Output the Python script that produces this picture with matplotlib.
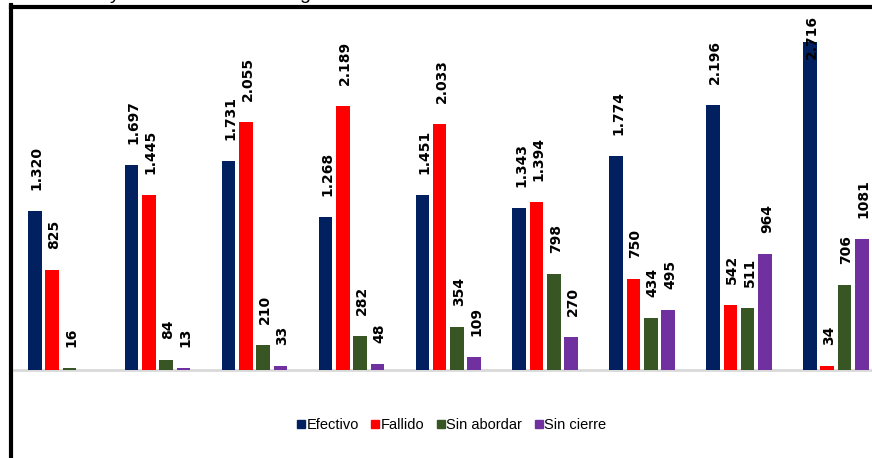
import matplotlib
matplotlib.use("Agg")
import matplotlib.pyplot as plt
import numpy as np
from matplotlib.lines import Line2D

series_names = ["Efectivo", "Fallido", "Sin abordar", "Sin cierre"]
colors = ["#002060", "#FF0000", "#375623", "#7030A0"]
efectivo = [1320, 1697, 1731, 1268, 1451, 1343, 1774, 2196, 2716]
fallido = [825, 1445, 2055, 2189, 2033, 1394, 750, 542, 34]
sin_abordar = [16, 84, 210, 282, 354, 798, 434, 511, 706]
sin_cierre = [None, 13, 33, 48, 109, 270, 495, 964, 1081]
label_dots = [True, True, False, False]  # thousands separator style per series

data = [efectivo, fallido, sin_abordar, sin_cierre]

W, H = 872, 458
fig = plt.figure(figsize=(W / 100, H / 100), dpi=100)

base_px = 370.0
top_px = 10.0
scale = 328.0 / 2716.0  # px per unit
ymax = (base_px - top_px) / scale

ax = fig.add_axes([14 / W, (H - base_px) / H, 1 - 14 / W, (base_px - top_px) / H])
group_pitch = 96.9
c0 = 60.7
ax.set_xlim((14 - c0) / group_pitch, (W - c0) / group_pitch)
ax.set_ylim(0, ymax)
for s in ax.spines.values():
    s.set_visible(False)
ax.set_xticks([])
ax.set_yticks([])
ax.axhline(0, color="#D9D9D9", lw=2, zorder=1, clip_on=False)

pitch = 17.3 / group_pitch
width = 13.6 / group_pitch
x = np.arange(len(efectivo))

gap_units = 21 / scale
for j, (vals, col) in enumerate(zip(data, colors)):
    off = (j - 1.5) * pitch
    xs = [xi + off for xi, v in zip(x, vals) if v is not None]
    vs = [v for v in vals if v is not None]
    ax.bar(xs, vs, width=width, color=col, zorder=2, edgecolor="none")
    for xi, v in zip(xs, vs):
        if label_dots[j] and v >= 1000:
            lab = f"{v:,}".replace(",", ".")
        else:
            lab = str(v)
        if v > 2500:
            ax.text(xi + 0.02, ymax - 5 / scale, lab, rotation=90, ha="center", va="top",
                    fontsize=10, fontweight="bold", family="DejaVu Sans", zorder=3)
        else:
            ax.text(xi + 0.02, v + gap_units, lab, rotation=90, ha="center", va="bottom",
                    fontsize=10, fontweight="bold", family="DejaVu Sans", zorder=3)

# legend
handles = [Line2D([], [], marker="s", linestyle="none", markersize=6,
                  markerfacecolor=c, markeredgecolor=c) for c in colors]
fig.legend(handles, series_names, loc="center", bbox_to_anchor=(452 / W, 1 - 425 / H),
           ncol=4, frameon=False, handletextpad=0.15, columnspacing=0.9,
           handlelength=0.45,
           prop={"family": ["Liberation Sans Narrow", "Liberation Sans"], "size": 10.5})

# black border (left and top)
fig.add_artist(Line2D([11 / W, 11 / W], [0, 1 - 5 / H], color="black", lw=3.0,
                      transform=fig.transFigure, solid_capstyle="projecting"))
fig.add_artist(Line2D([11 / W, 1.0], [1 - 7 / H, 1 - 7 / H], color="black", lw=3.0,
                      transform=fig.transFigure, solid_capstyle="projecting"))

# clipped title fragments at the very top
fig.text(115 / W, 1.0 + 1 / H, "y", fontsize=14, ha="center", va="baseline", family="Liberation Sans")
fig.text(305 / W, 1.0 + 1 / H, "g", fontsize=14, ha="center", va="baseline", family="Liberation Sans")

fig.savefig("out.png", dpi=100)
